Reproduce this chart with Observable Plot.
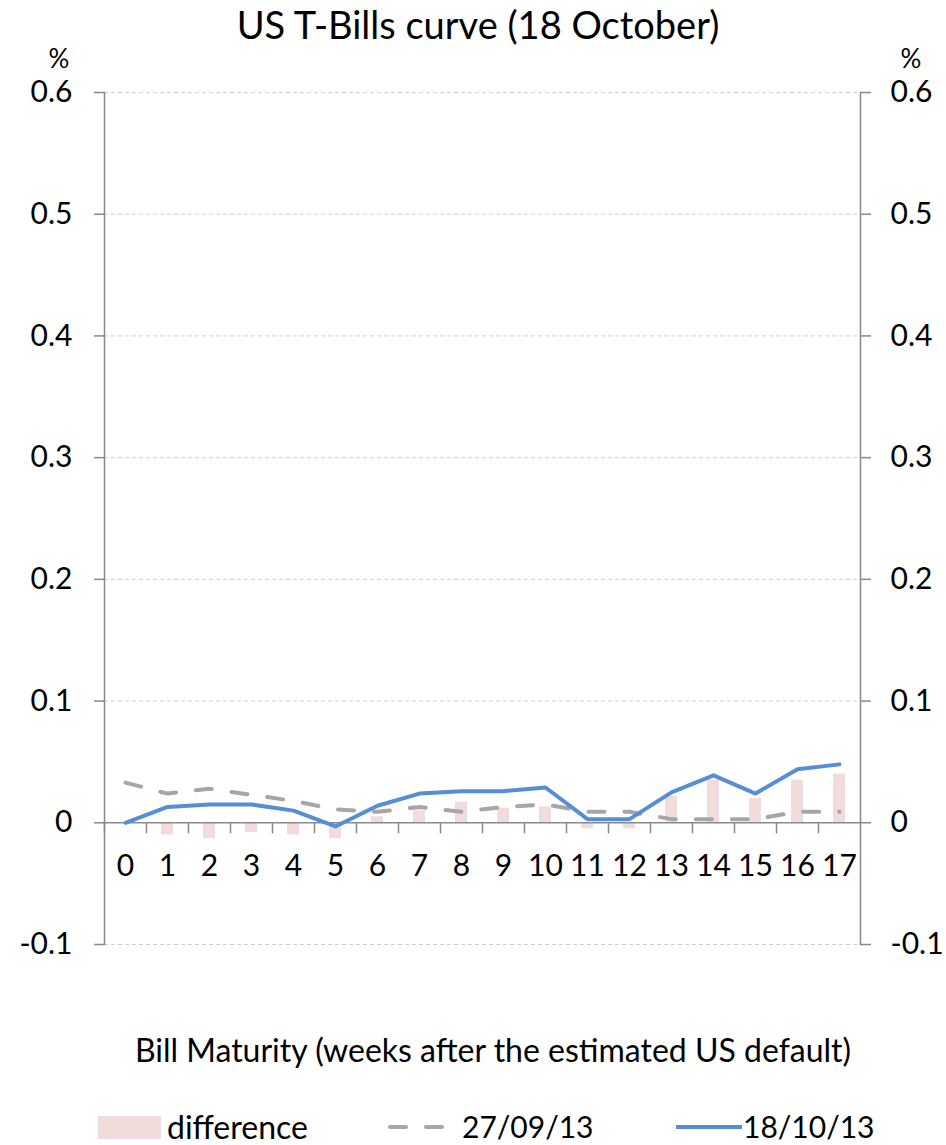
<!DOCTYPE html>
<html>
<head>
<meta charset="utf-8">
<script src="https://cdn.jsdelivr.net/npm/d3@7"></script>
<script src="https://cdn.jsdelivr.net/npm/@observablehq/plot@0.6"></script>
<style>
  body { margin: 0; background: white; }
  #wrap { position: relative; width: 946px; height: 1145px; font-family: Lato, "Open Sans", sans-serif; color: #000; }
  .t { position: absolute; white-space: nowrap; line-height: 1; }
  svg.plot { position: absolute; left: 0; top: 0; }
</style>
</head>
<body>
<div id="wrap">
  <div class="t" id="title" style="left:0; width:956px; text-align:center; top:5px; font-size:38px;">US T-Bills curve (18 October)</div>
  <div class="t" style="left:44px; top:45px; font-size:26px; width:30px; text-align:center;">%</div>
  <div class="t" style="left:896px; top:45px; font-size:26px; width:30px; text-align:center;">%</div>
  <div class="t" id="xlabel" style="left:0; width:986px; text-align:center; top:1034px; font-size:32px;">Bill Maturity (weeks after the estimated US default)</div>
  <div id="legend"></div>
</div>
<script>
const weeks = [0, 1, 2, 3, 4, 5, 6, 7, 8, 9, 10, 11, 12, 13, 14, 15, 16, 17];
const oct18 = [0, 0.013, 0.015, 0.015, 0.010, -0.003, 0.014, 0.024, 0.026, 0.026, 0.029, 0.003, 0.003, 0.025, 0.039, 0.024, 0.044, 0.048];
const sep27 = [0.033, 0.024, 0.028, 0.023, 0.018, 0.011, 0.009, 0.013, 0.009, 0.013, 0.015, 0.009, 0.009, 0.003, 0.003, 0.003, 0.009, 0.009];
const difference = [0, -0.010, -0.013, -0.008, -0.010, -0.013, 0.005, 0.010, 0.017, 0.012, 0.013, -0.005, -0.005, 0.022, 0.035, 0.020, 0.035, 0.040];
const yTicks = [-0.1, 0, 0.1, 0.2, 0.3, 0.4, 0.5, 0.6];
const gridTicks = [-0.1, 0.1, 0.2, 0.3, 0.4, 0.5, 0.6];
const seriesNames = ["difference", "27/09/13", "18/10/13"];

const data = weeks.map((w, i) => ({week: w, oct: oct18[i], sep: sep27[i], diff: difference[i]}));

const axisColor = "#898989";
const fmt = d => String(d);
const tickShape = {draw(context, l) { context.moveTo(0, 0); context.lineTo(0, -l); }};

const plot = Plot.plot({
  width: 946,
  height: 1145,
  marginLeft: 104,
  marginRight: 86,
  marginTop: 92,
  marginBottom: 201,
  style: {fontFamily: "Lato, 'Open Sans', sans-serif", fontSize: "30px", background: "transparent", overflow: "visible"},
  x: {type: "band", domain: weeks, paddingInner: 0.71, paddingOuter: 0.355, axis: null},
  y: {domain: [-0.1, 0.6]},
  marks: [
    Plot.ruleY(gridTicks, {stroke: "#cfcfcf", strokeWidth: 1, strokeDasharray: "4,3"}),
    Plot.barY(data, {x: "week", y: "diff", fill: "#f2dcdb"}),
    Plot.ruleY([0], {stroke: axisColor, strokeWidth: 1.5}),
    Plot.vector(weeks, {x: d => d, y: 0, length: 10, rotate: 180, anchor: "start", shape: tickShape, dx: -21, stroke: axisColor, strokeWidth: 1.5}),
    Plot.frame({anchor: "left", stroke: axisColor, strokeWidth: 1.5}),
    Plot.frame({anchor: "right", stroke: axisColor, strokeWidth: 1.5}),
    Plot.axisY(yTicks, {anchor: "left", tickSize: 10, tickPadding: 22, tickFormat: fmt, fontSize: 30, stroke: axisColor, strokeWidth: 1.5, label: null}),
    Plot.axisY(yTicks, {anchor: "right", tickSize: 10, tickPadding: 20, tickFormat: fmt, fontSize: 30, stroke: axisColor, strokeWidth: 1.5, label: null}),
    Plot.text(data, {x: "week", y: 0, text: d => String(d.week), dy: 44, fontSize: 30, fill: "black"}),
    Plot.line(data, {x: "week", y: "sep", stroke: "#a6a6a6", strokeWidth: 4, strokeDasharray: "16,20", strokeLinecap: "round"}),
    Plot.line(data, {x: "week", y: "oct", stroke: "#558ed5", strokeWidth: 4, strokeLinejoin: "round"})
  ]
});
plot.classList.add("plot");
const wrap = document.getElementById("wrap");
wrap.insertBefore(plot, wrap.firstChild);

// Legend
const legend = document.getElementById("legend");
legend.innerHTML = `
  <svg style="position:absolute; left:98px; top:1116px;" width="63" height="23"><rect x="0" y="0" width="63" height="23" fill="#f2dcdb"/></svg>
  <div class="t" style="left:167px; top:1111px; font-size:32px;">${seriesNames[0]}</div>
  <svg style="position:absolute; left:386px; top:1117px;" width="72" height="20"><line x1="4" y1="10" x2="68" y2="10" stroke="#a6a6a6" stroke-width="4" stroke-dasharray="16,20" stroke-linecap="round"/></svg>
  <div class="t" style="left:462px; top:1111px; font-size:30px;">${seriesNames[1]}</div>
  <svg style="position:absolute; left:674px; top:1117px;" width="70" height="20"><line x1="2" y1="10" x2="68" y2="10" stroke="#558ed5" stroke-width="4"/></svg>
  <div class="t" style="left:743px; top:1111px; font-size:30px;">${seriesNames[2]}</div>
`;
</script>
</body>
</html>
